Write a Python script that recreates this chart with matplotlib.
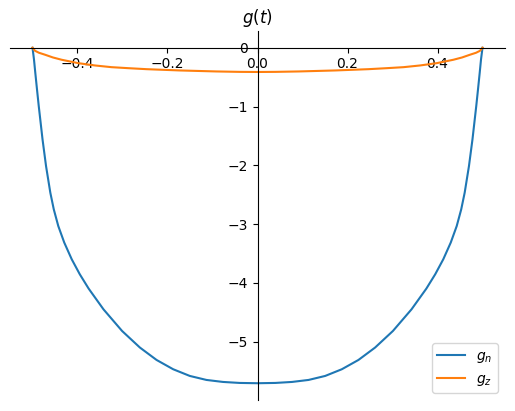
import numpy as np
import matplotlib
matplotlib.use('Agg')
import matplotlib.pyplot as plt

# g_n curve (left half, then right half)
t_n = [-0.5, -0.4967, -0.4938, -0.4900, -0.4861, -0.4819, -0.4777, -0.4699, -0.4604,
       -0.4527, -0.4427, -0.4294, -0.4128, -0.3949, -0.3752, -0.3423, -0.3009, -0.2613,
       -0.2243, -0.1874, -0.1504, -0.1135, -0.0768, -0.0398, 0.0,
       0.0398, 0.0768, 0.1135, 0.1504, 0.1874, 0.2243, 0.2613, 0.3009, 0.3423, 0.3752,
       0.3949, 0.4128, 0.4294, 0.4427, 0.4527, 0.4604, 0.4699, 0.4777, 0.4819, 0.4861,
       0.4900, 0.4938, 0.4967, 0.5]
g_n = [0.0, -0.199, -0.425, -0.709, -0.993, -1.276, -1.560, -2.014, -2.466,
       -2.750, -3.034, -3.316, -3.600, -3.855, -4.099, -4.451, -4.820, -5.102,
       -5.313, -5.471, -5.585, -5.653, -5.687, -5.704, -5.709,
       -5.704, -5.687, -5.653, -5.585, -5.471, -5.313, -5.102, -4.820, -4.451, -4.099,
       -3.855, -3.600, -3.316, -3.034, -2.750, -2.466, -2.014, -1.560, -1.276, -0.993,
       -0.709, -0.425, -0.199, 0.0]

# g_z curve
t_z = [-0.5, -0.4945, -0.4856, -0.4719, -0.4546, -0.4352, -0.3982, -0.3613, -0.3246,
       -0.2876, -0.2471, -0.1726, -0.0914, -0.0398, 0.0,
       0.0398, 0.0914, 0.1726, 0.2471, 0.2876, 0.3246, 0.3613, 0.3982, 0.4352,
       0.4546, 0.4719, 0.4856, 0.4945, 0.5]
g_z = [0.0, -0.051, -0.085, -0.119, -0.165, -0.204, -0.262, -0.301, -0.330,
       -0.347, -0.364, -0.386, -0.403, -0.410, -0.412,
       -0.410, -0.403, -0.386, -0.364, -0.347, -0.330, -0.301, -0.262, -0.204,
       -0.165, -0.119, -0.085, -0.051, 0.0]

fig = plt.figure(figsize=(5.15, 4.11), dpi=100)
ax = fig.add_axes([10/515, 11/411, 495/515, 369/411])

ax.plot(t_n, g_n, label='$g_n$')
ax.plot(t_z, g_z, label='$g_z$')

ax.spines['left'].set_position('zero')
ax.spines['bottom'].set_position('zero')
ax.spines['right'].set_visible(False)
ax.spines['top'].set_visible(False)

ax.set_title('$g(t)$')
ax.legend(loc='lower right')

fig.savefig('out.png', dpi=100)
